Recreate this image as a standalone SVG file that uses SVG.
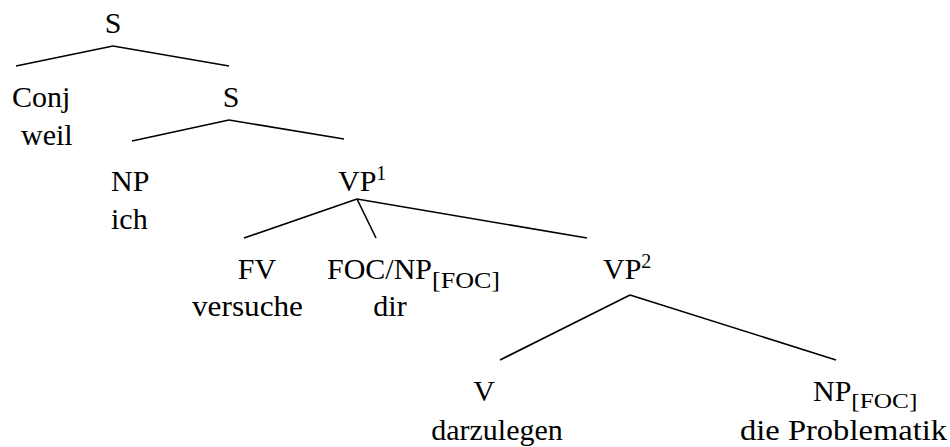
<svg xmlns="http://www.w3.org/2000/svg" width="950" height="447" viewBox="0 0 950 447">
<style>
text{font-family:"Liberation Serif","Times New Roman",serif;font-size:30px;fill:#000}
.sup{font-size:20px}
.sub{font-size:23px}
.sub2{font-size:22px}
.m{text-anchor:middle}
.e{text-anchor:end}
#edges line{stroke:#000;stroke-width:1.6;stroke-linecap:butt}
</style>
<rect width="950" height="447" fill="#fff"/>
<g id="edges">
<line x1="113" y1="46" x2="16" y2="66"/>
<line x1="113" y1="46" x2="229" y2="66"/>
<line x1="229" y1="120" x2="132" y2="141"/>
<line x1="229" y1="120" x2="344" y2="139"/>
<line x1="357" y1="199" x2="244" y2="238"/>
<line x1="357" y1="199" x2="376" y2="238"/>
<line x1="357" y1="199" x2="587" y2="238"/>
<line x1="630" y1="295" x2="500" y2="360"/>
<line x1="630" y1="295" x2="836" y2="360"/>
</g>
<g id="S1"><text class="m" x="113" y="33">S</text></g>
<g id="Conj"><text x="12" y="107">Conj</text><text x="21" y="145">weil</text></g>
<g id="S2"><text class="m" x="231" y="107">S</text></g>
<g id="NP1"><text x="111" y="191">NP</text><text x="111" y="229">ich</text></g>
<g id="VP1"><text x="338" y="191">VP<tspan class="sup" dy="-11">1</tspan></text></g>
<g id="FV"><text class="m" x="257" y="279">FV</text><text x="192" y="316" textLength="111" lengthAdjust="spacingAndGlyphs">versuche</text></g>
<g id="FOC"><text x="327" y="279">FOC/NP<tspan class="sub" dy="9" textLength="68" lengthAdjust="spacingAndGlyphs">[FOC]</tspan></text><text class="m" x="390" y="316">dir</text></g>
<g id="VP2"><text x="603" y="279">VP<tspan class="sup" dy="-11">2</tspan></text></g>
<g id="V"><text class="m" x="484" y="401">V</text><text class="m" x="497" y="440">darzulegen</text></g>
<g id="NP2"><text x="813" y="401">NP<tspan class="sub2" dy="7" textLength="66" lengthAdjust="spacingAndGlyphs">[FOC]</tspan></text><text x="740" y="440" textLength="207" lengthAdjust="spacingAndGlyphs">die Problematik</text></g>
</svg>
